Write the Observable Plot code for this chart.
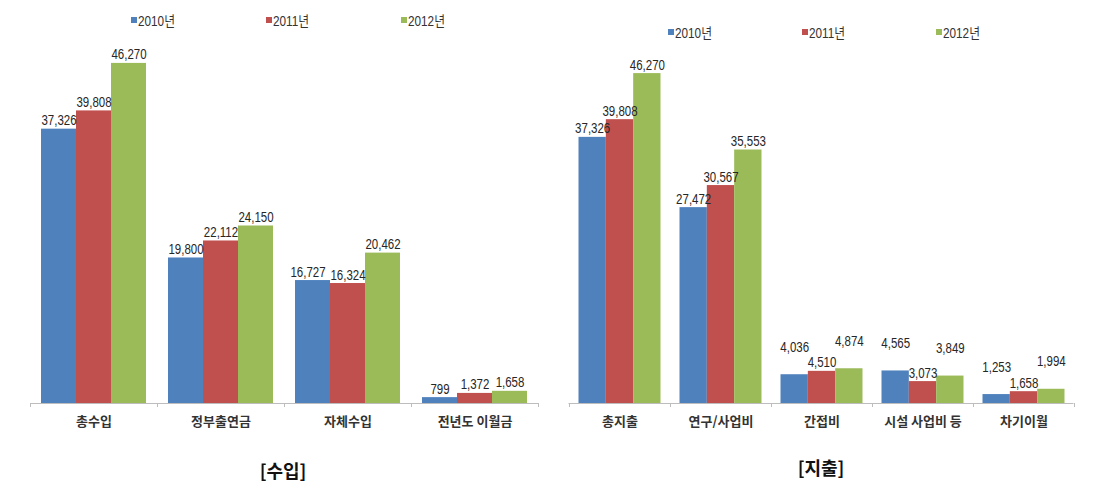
<!DOCTYPE html>
<html><head><meta charset="utf-8">
<script src="https://cdn.jsdelivr.net/npm/d3@7"></script>
<script src="https://cdn.jsdelivr.net/npm/@observablehq/plot@0.6"></script>
<style>
body{margin:0;background:#fff;}
#root{position:relative;width:1117px;height:490px;overflow:hidden;}
.panel{position:absolute;top:0;}
.lg{position:absolute;}
.lgtxt{display:inline-block;transform:scaleX(0.84);transform-origin:0 50%;}
.caption{position:absolute;font-family:"Noto Sans CJK KR","Noto Sans",sans-serif;font-size:18px;font-weight:bold;color:#111;text-align:center;line-height:20px;}
</style></head><body><div id="root"></div>
<script>
const years = ["2010년", "2011년", "2012년"];
const colors = ["#4F81BD", "#C0504D", "#9BBB59"];

const incomeCategories = ["총수입", "정부출연금", "자체수입", "전년도 이월금"];
const income2010 = [37326, 19800, 16727, 799];
const income2011 = [39808, 22112, 16324, 1372];
const income2012 = [46270, 24150, 20462, 1658];

const expenseCategories = ["총지출", "연구/사업비", "간접비", "시설 사업비 등", "차기이월"];
const expense2010 = [37326, 27472, 4036, 4565, 1253];
const expense2011 = [39808, 30567, 4510, 3073, 1658];
const expense2012 = [46270, 35553, 4874, 3849, 1994];

const panelTitles = ["[수입]", "[지출]"];
const yMax = 50000;

const NUM_FONT = '"Liberation Sans","Noto Sans CJK KR",sans-serif';
const KR_FONT = '"Noto Sans CJK KR","Noto Sans",sans-serif';
const LABEL_SIZE = 14, NARROW = 0.82;
const fmt = d3.format(",");
const root = document.getElementById("root");
const ctx = document.createElement("canvas").getContext("2d");
ctx.font = `${LABEL_SIZE}px "Liberation Sans"`;
const textW = s => ctx.measureText(s).width * NARROW;

function makePanel(cfg) {
  const {categories, series, left, width, marginLeft, marginRight, marginTop, pad, height, baseline} = cfg;
  const n = categories.length;
  const band = (width - marginLeft - marginRight) / n;
  const w = (band - 2 * pad) / 3;
  const marginBottom = height - baseline;
  const pxPerUnit = (baseline - marginTop) / yMax;
  const unitsPerPx = 1 / pxPerUnit;
  const rows = categories.flatMap((c, j) => series.map((s, i) => ({cat: c, yi: i, year: years[i], value: s[j], lift: false, shift: 0})));
  // Crowded labels (as in the reference): raised in a staggered way, or nudged sideways.
  categories.forEach(c => {
    const g = rows.filter(d => d.cat === c);
    let crowded = false;
    for (let k = 1; k < g.length; k++) {
      const hOver = (textW(fmt(g[k - 1].value)) + textW(fmt(g[k].value))) / 2 - w;
      const vGap = Math.abs(g[k - 1].value - g[k].value) * pxPerUnit;
      if (vGap < 14) {
        if (cfg.stagger && hOver > 0) crowded = true;
        else if (!cfg.stagger && hOver > -3) g[k - 1].shift = -Math.round(hOver + 5);
      }
    }
    if (crowded) { g[0].lift = true; g[2].lift = true; }
  });
  const marks = [];
  years.forEach((yr, i) => {
    const data = rows.filter(d => d.year === yr);
    marks.push(Plot.barY(data, {
      x: "cat", y: "value", fill: colors[i],
      insetLeft: pad + i * w, insetRight: band - pad - (i + 1) * w
    }));
  });
  marks.push(
    Plot.ruleY([0], {stroke: "#bdbdbd", strokeWidth: 1.2}),
    Plot.ruleX(categories, {x: d => d, y1: 0, y2: -4 * unitsPerPx, dx: -band / 2, stroke: "#bdbdbd"}),
    Plot.ruleX([categories[n - 1]], {x: d => d, y1: 0, y2: -4 * unitsPerPx, dx: band / 2, stroke: "#bdbdbd"})
  );
  years.forEach((yr, i) => {
    const groups = d3.groups(rows.filter(d => d.year === yr), d => `${d.lift}|${d.shift}`);
    groups.forEach(([, data]) => {
      const {lift, shift} = data[0];
      marks.push(Plot.text(data, {
        x: "cat", y: "value", text: d => fmt(d.value),
        dx: -band / 2 + pad + (i + 0.5) * w + shift, dy: lift ? -23 : -4, lineAnchor: "bottom",
        fontSize: LABEL_SIZE, fill: "#262626", fontFamily: NUM_FONT
      }));
    });
  });
  marks.push(Plot.axisX({tickSize: 0, tickPadding: 13, fontSize: 13, fontWeight: "bold", fontFamily: KR_FONT, fill: "#333", label: null}));

  const chart = Plot.plot({
    width, height, marginLeft, marginRight, marginTop, marginBottom,
    x: {type: "band", domain: categories, padding: 0},
    y: {domain: [0, yMax], axis: null},
    style: {fontFamily: NUM_FONT, fontSize: "12px", color: "#333", background: "transparent"},
    marks
  });
  chart.classList.add("panel");
  chart.style.left = left + "px";
  root.appendChild(chart);
  // narrow the numeric labels (reference uses a condensed face)
  chart.querySelectorAll("text").forEach(t => {
    if (/^[\d,]+$/.test(t.textContent.trim())) {
      const L = t.getComputedTextLength();
      if (L > 0) {
        t.setAttribute("textLength", (L * NARROW).toFixed(2));
        t.setAttribute("lengthAdjust", "spacingAndGlyphs");
      }
    }
  });

  const leg = Plot.legend({color: {type: "ordinal", domain: years, range: colors}, legend: "swatches", swatchSize: 6});
  leg.classList.add("lg");
  leg.style.left = cfg.legendLeft + "px";
  leg.style.top = (cfg.legendY - 16.5) + "px";
  leg.style.fontFamily = NUM_FONT;
  leg.style.fontSize = "14px";
  leg.style.color = "#333";
  leg.style.margin = "0";
  leg.style.flexWrap = "nowrap";
  leg.querySelectorAll(":scope > span").forEach(s => {
    s.style.width = cfg.legendStep + "px";
    s.style.marginRight = "0";
    s.style.flex = "none";
    const sv = s.querySelector("svg");
    if (sv) sv.style.marginRight = "1px";
    Array.from(s.childNodes).forEach(nd => {
      if (nd.nodeType === 3 && nd.textContent.trim()) {
        const sp = document.createElement("span");
        sp.className = "lgtxt";
        sp.textContent = nd.textContent;
        s.replaceChild(sp, nd);
      }
    });
  });
  root.appendChild(leg);

  const cap = document.createElement("div");
  cap.className = "caption";
  cap.textContent = cfg.title;
  cap.style.left = (cfg.captionX - 60) + "px";
  cap.style.width = "120px";
  cap.style.top = (cfg.captionY - 10) + "px";
  root.appendChild(cap);
}

makePanel({
  categories: incomeCategories, series: [income2010, income2011, income2012],
  left: 0, width: 555, marginLeft: 30, marginRight: 17, marginTop: 35.5, pad: 11,
  height: 440, baseline: 403, stagger: false,
  legendLeft: 131, legendY: 20, legendStep: 135,
  title: panelTitles[0], captionX: 283, captionY: 470
});
makePanel({
  categories: expenseCategories, series: [expense2010, expense2011, expense2012],
  left: 545, width: 572, marginLeft: 23.5, marginRight: 43.5, marginTop: 46.5, pad: 9.5,
  height: 440, baseline: 403, stagger: true,
  legendLeft: 668, legendY: 32, legendStep: 134,
  title: panelTitles[1], captionX: 821, captionY: 467
});
</script></body></html>
